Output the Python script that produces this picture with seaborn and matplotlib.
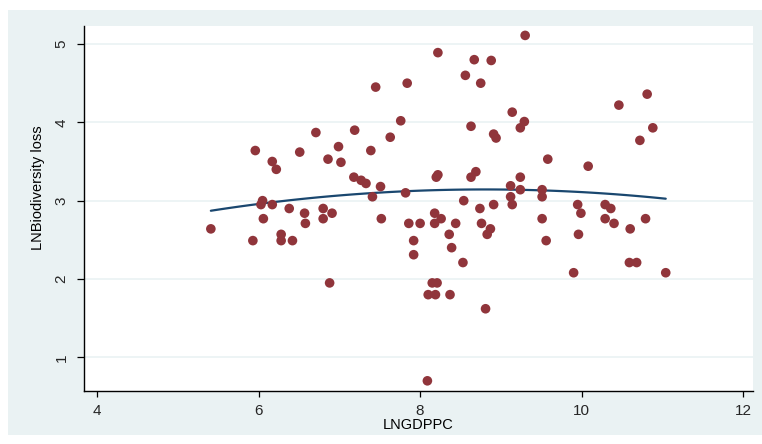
import matplotlib
matplotlib.use("Agg")
import matplotlib.pyplot as plt
from matplotlib.patches import Rectangle
import seaborn as sns
import pandas as pd

# LNGDPPC values
lngdppc = [
    5.41, 5.93, 6.05, 6.03, 6.17, 6.06, 6.28, 6.28, 6.42, 6.38,
    6.57, 6.58, 5.96, 6.17, 6.22, 6.51, 9.30, 8.22, 8.67, 8.88,
    8.56, 8.75, 7.45, 7.84, 9.14, 9.29, 9.24, 8.63, 7.76, 6.71,
    7.19, 7.63, 8.91, 8.94, 6.99, 6.86, 7.02, 7.39, 7.18, 7.27,
    7.33, 7.51, 7.41, 7.82, 8.20, 8.22, 8.63, 8.69, 9.24, 9.12,
    9.24, 9.12, 8.54, 8.74, 8.91, 9.14, 6.80, 10.81, 10.46, 10.88,
    10.72, 9.58, 10.08, 9.51, 9.51, 9.95, 10.29, 10.36, 6.80, 6.91,
    7.52, 7.86, 8.00, 8.18, 8.26, 8.18, 8.44, 8.36, 8.76, 8.87,
    8.83, 7.92, 8.39, 7.92, 8.53, 6.88, 8.15, 8.21, 8.10, 8.19,
    8.37, 8.81, 8.09, 9.99, 9.51, 10.29, 10.40, 10.79, 10.60, 9.96,
    9.56, 10.59, 10.68, 9.90, 11.04,
]
# LNBiodiversity loss values
lnbio = [
    2.64, 2.49, 3.00, 2.95, 2.95, 2.77, 2.57, 2.49, 2.49, 2.90,
    2.84, 2.71, 3.64, 3.50, 3.40, 3.62, 5.11, 4.89, 4.80, 4.79,
    4.60, 4.50, 4.45, 4.50, 4.13, 4.01, 3.93, 3.95, 4.02, 3.87,
    3.90, 3.81, 3.85, 3.80, 3.69, 3.53, 3.49, 3.64, 3.30, 3.26,
    3.22, 3.18, 3.05, 3.10, 3.30, 3.33, 3.30, 3.37, 3.30, 3.19,
    3.14, 3.05, 3.00, 2.90, 2.95, 2.95, 2.90, 4.36, 4.22, 3.93,
    3.77, 3.53, 3.44, 3.14, 3.05, 2.95, 2.95, 2.90, 2.77, 2.84,
    2.77, 2.71, 2.71, 2.84, 2.77, 2.71, 2.71, 2.57, 2.71, 2.64,
    2.57, 2.49, 2.40, 2.31, 2.21, 1.95, 1.95, 1.95, 1.80, 1.80,
    1.80, 1.62, 0.70, 2.84, 2.77, 2.77, 2.71, 2.77, 2.64, 2.57,
    2.49, 2.21, 2.21, 2.08, 2.08,
]
x_ticks = [4, 6, 8, 10, 12]
y_ticks = [1, 2, 3, 4, 5]

df = pd.DataFrame({"LNGDPPC": lngdppc, "LNBiodiversity loss": lnbio})

sns.set_theme(style="white")
plt.rcParams["font.family"] = ["Liberation Sans", "DejaVu Sans"]

BG = "#EAF2F3"
fig = plt.figure(figsize=(7.62, 4.44), dpi=100)
fig.patch.set_facecolor("white")
bg = Rectangle((8 / 762, 9 / 444), 1 - 8 / 762, 425 / 444,
               transform=fig.transFigure, facecolor=BG,
               edgecolor="none", zorder=-10)
fig.patches.append(bg)

ax = fig.add_axes([84 / 762, 1 - 391 / 444, (753 - 84) / 762, (391 - 26) / 444])
ax.set_zorder(1)
ax.set_facecolor("white")

for t in y_ticks:
    ax.axhline(t, color=BG, lw=1.2, zorder=0)

sns.scatterplot(data=df, x="LNGDPPC", y="LNBiodiversity loss", ax=ax,
                color="#90353b", s=48, edgecolor="none", linewidth=0, zorder=3)
sns.regplot(data=df, x="LNGDPPC", y="LNBiodiversity loss", ax=ax, order=2,
            scatter=False, ci=None, truncate=True,
            line_kws=dict(color="#1a476f", lw=1.6, zorder=2))

ax.set_xlim(3.84, 12.12)
ax.set_ylim(0.57, 5.23)
ax.set_xticks(x_ticks)
ax.set_yticks(y_ticks)
ax.set_xticklabels([str(v) for v in x_ticks])
ax.set_yticklabels([str(v) for v in y_ticks], rotation=90, va="center")

for s in ["top", "right"]:
    ax.spines[s].set_visible(False)
for s in ["left", "bottom"]:
    ax.spines[s].set_color("black")
    ax.spines[s].set_linewidth(1.0)

ax.tick_params(axis="x", direction="out", length=4, width=0.9, color="black",
               labelsize=11, pad=5, bottom=True)
ax.tick_params(axis="y", direction="out", length=5, width=0.9, color="black",
               labelsize=11, pad=6, left=True)

ax.set_xlabel("LNGDPPC", fontsize=10.5, color="black")
ax.set_ylabel("LNBiodiversity loss", fontsize=10.5, color="black")
ax.xaxis.set_label_coords(0.5, -0.075)
ax.yaxis.set_label_coords(-0.058, 0.556)

fig.savefig("out.png", dpi=100, facecolor=fig.get_facecolor())
